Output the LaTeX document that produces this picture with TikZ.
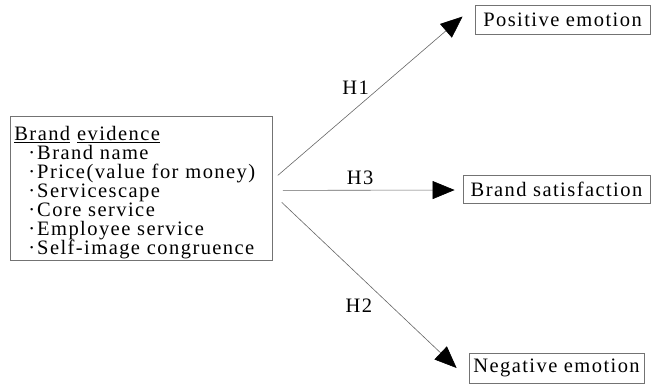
\documentclass[tikz,border=0pt]{standalone}
\usepackage{fontspec}
\setmainfont[LetterSpace=7]{Liberation Serif}
\usetikzlibrary{arrows.meta, positioning}

\newcommand{\evitem}{\hspace*{14pt}·\hspace{2pt}}

\begin{document}
\begin{tikzpicture}[x=1pt, y=-1pt,
    box/.style={rectangle, draw=black!55, line width=0.8pt, inner sep=4pt, font=\fontsize{20.5}{19}\selectfont},
    arrow/.style={-{Triangle[length=22pt, width=18pt, color=black]}, draw=black!60, line width=0.6pt},
    hyp/.style={font=\fontsize{20.5}{19}\selectfont, inner sep=1pt}
]
\useasboundingbox (0,0) rectangle (660,383);
\clip (0,0) rectangle (660,383);

\node[box, anchor=north west, text width=254pt, minimum height=144pt, inner ysep=0pt, align=left] (evidence) at (10,116)
    {\rule{0pt}{22pt}\underline{Brand} \underline{evidence}\\
     \evitem Brand name\\
     \evitem Price(value for money)\\
     \evitem Servicescape\\
     \evitem Core service\\
     \evitem Employee service\\
     \evitem Self-image congruence};
\node[box, minimum width=175pt, minimum height=29pt] (posemo) at (562.5,19.5) {Positive emotion};
\node[box, minimum width=187pt, minimum height=28pt] (brandsat) at (556.5,189) {Brand satisfaction};
\node[box, minimum width=175pt, minimum height=30pt] (negemo) at (556.5,368) {Negative emotion};

\coordinate (h1start) at ([shift={(5,-13)}]evidence.east);
\coordinate (h3start) at ([shift={(10,2)}]evidence.east);
\coordinate (h2start) at ([shift={(9,14)}]evidence.east);

\draw[arrow] (h1start) -- node[hyp, pos=0.5, above left]{H1} ([shift={(-12,-3)}]posemo.west);
\draw[arrow] (h3start) -- node[hyp, pos=0.45, above=4pt]{H3} ([shift={(-8,1)}]brandsat.west);
\draw[arrow] (h2start) -- node[hyp, pos=0.57, below left=1pt and 8pt]{H2} ([shift={(-12,0)}]negemo.west);
\end{tikzpicture}
\end{document}
